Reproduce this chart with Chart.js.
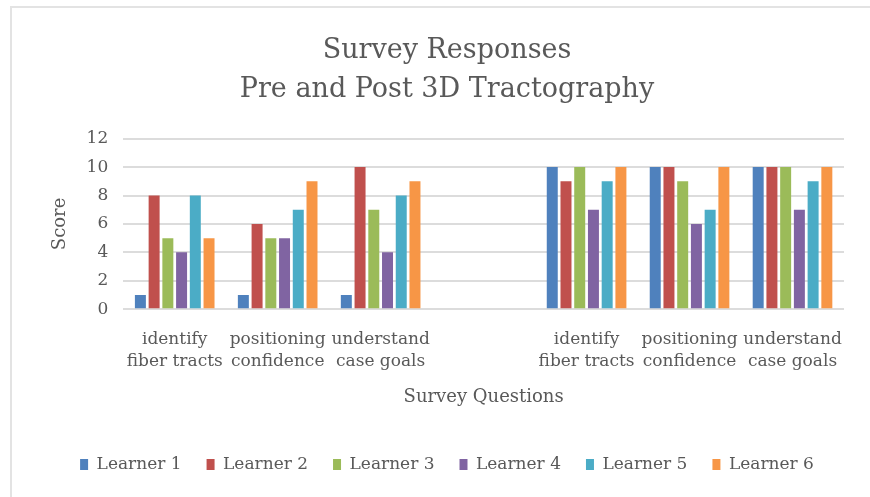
<!DOCTYPE html>
<html>
<head>
<meta charset="utf-8">
<script src="https://cdn.jsdelivr.net/npm/chart.js@4.4.1/dist/chart.umd.min.js"></script>
<style>
  html, body { margin: 0; padding: 0; background: #ffffff; }
  #wrap { position: relative; width: 870px; height: 497px; overflow: hidden; }
  #frame { position: absolute; left: 10px; top: 6px; width: 900px; height: 600px;
           border-top: 2px solid #e3e3e3; border-left: 2px solid #e3e3e3; }
  #c { position: absolute; left: 0; top: 0; }
</style>
</head>
<body>
<div id="wrap">
  <div id="frame"></div>
  <canvas id="c" width="870" height="497"></canvas>
</div>
<script>
const categories = [
  ["identify", "fiber tracts"],
  ["positioning", "confidence"],
  ["understand", "case goals"],
  "",
  ["identify", "fiber tracts"],
  ["positioning", "confidence"],
  ["understand", "case goals"]
];
const seriesNames = ["Learner 1", "Learner 2", "Learner 3", "Learner 4", "Learner 5", "Learner 6"];
const learner1 = [1, 1, 1, null, 10, 10, 10];
const learner2 = [8, 6, 10, null, 9, 10, 10];
const learner3 = [5, 5, 7, null, 10, 9, 10];
const learner4 = [4, 5, 4, null, 7, 6, 7];
const learner5 = [8, 7, 8, null, 9, 7, 9];
const learner6 = [5, 9, 9, null, 10, 10, 10];
const yTicks = [0, 2, 4, 6, 8, 10, 12];

const colors = ["#4F81BD", "#C0504D", "#9BBB59", "#8064A2", "#4BACC6", "#F79646"];
const allSeries = [learner1, learner2, learner3, learner4, learner5, learner6];
const FONT = "'DejaVu Serif', serif";
const TXT = "#595959";

new Chart(document.getElementById('c'), {
  type: 'bar',
  data: {
    labels: categories,
    datasets: allSeries.map((d, i) => ({
      label: seriesNames[i],
      data: d,
      backgroundColor: colors[i],
      borderWidth: 0,
      categoryPercentage: 0.8,
      barPercentage: 0.8
    }))
  },
  options: {
    responsive: false,
    animation: false,
    layout: { padding: { top: 32, left: 50, right: 26, bottom: 14 } },
    plugins: {
      title: {
        display: true,
        text: ["Survey Responses", "Pre and Post 3D Tractography"],
        color: TXT,
        font: { family: FONT, size: 27, weight: 'normal', lineHeight: 1.42 },
        padding: { top: 0, bottom: 30 }
      },
      legend: {
        position: 'bottom',
        labels: {
          color: TXT,
          font: { family: FONT, size: 17 },
          boxWidth: 8,
          boxHeight: 11,
          padding: 25
        }
      },
      tooltip: { enabled: false }
    },
    scales: {
      x: {
        grid: { display: false },
        border: { display: false },
        ticks: {
          color: TXT,
          font: { family: FONT, size: 17, lineHeight: 1.3 },
          maxRotation: 0,
          autoSkip: false,
          padding: 11
        },
        title: {
          display: true,
          text: "Survey Questions",
          color: TXT,
          font: { family: FONT, size: 18 },
          padding: { top: 3, bottom: 23 }
        }
      },
      y: {
        min: 0,
        max: 12,
        afterBuildTicks: (axis) => { axis.ticks = yTicks.map(v => ({ value: v })); },
        grid: { color: "#dcdcdc", lineWidth: 2, drawTicks: false },
        border: { display: false },
        ticks: {
          color: TXT,
          font: { family: FONT, size: 17 },
          padding: 15
        },
        title: {
          display: true,
          text: "Score",
          color: TXT,
          font: { family: FONT, size: 18 },
          padding: { top: 0, bottom: 0 }
        }
      }
    }
  }
});
</script>
</body>
</html>
